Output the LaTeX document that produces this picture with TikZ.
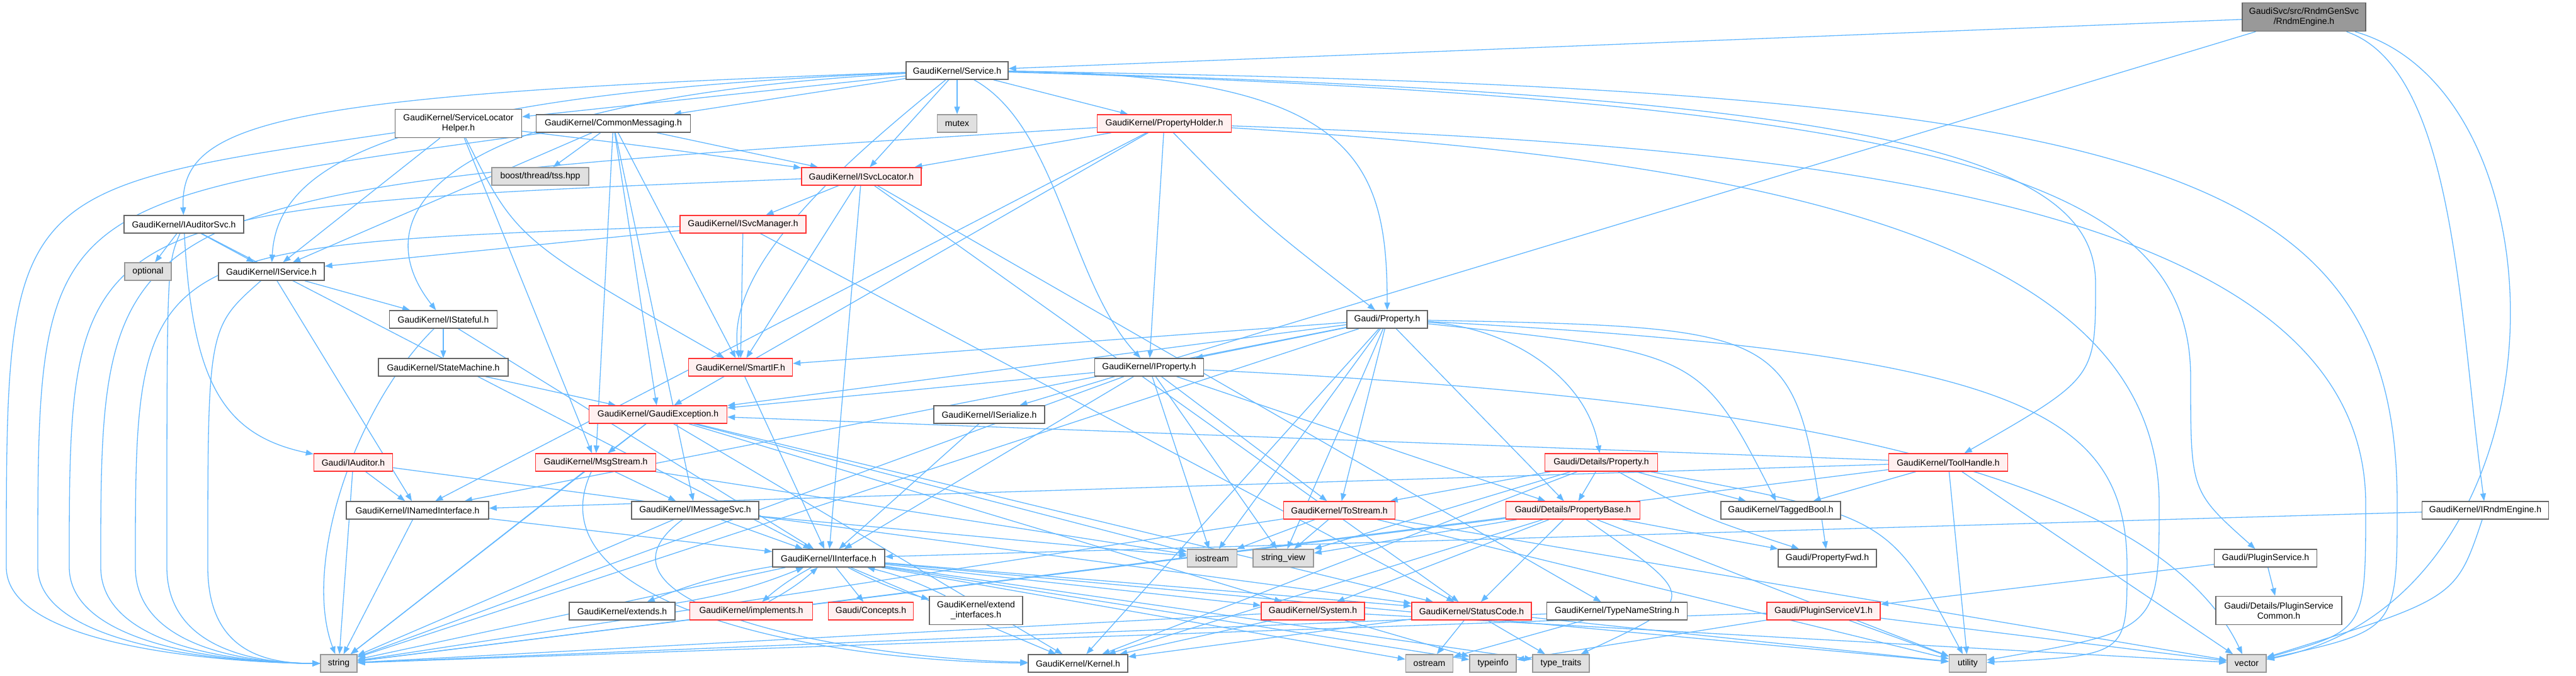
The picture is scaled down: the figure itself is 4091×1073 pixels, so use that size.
\documentclass[tikz,border=0pt]{standalone}
\usepackage{fontspec}
\setmainfont{Liberation Sans}
\usetikzlibrary{arrows.meta}
\pgfdeclarelayer{bg}
\pgfsetlayers{bg,main}
\definecolor{edgec}{HTML}{63B8FF}
\definecolor{gfortyc}{HTML}{666666}
\definecolor{gsixtyc}{HTML}{999999}
\definecolor{gninetyc}{HTML}{E0E0E0}
\definecolor{pinkc}{HTML}{FFF0F0}
\definecolor{redc}{HTML}{FF3333}
\begin{document}
\begin{tikzpicture}[x=1pt,y=-1pt,
 base/.style={draw, line width=1.5pt, inner sep=0pt, minimum height=28pt, font=\fontsize{14}{16}\selectfont, align=center},
 nd/.style={base, draw=gfortyc, fill=white},
 rd/.style={base, draw=redc, fill=pinkc},
 sy/.style={base, draw=gsixtyc, fill=gninetyc},
 rt/.style={base, draw=gfortyc, fill=gsixtyc},
 ed/.style={draw=edgec, line width=1.3pt, -{Triangle[length=12pt,width=9pt]}}]
\useasboundingbox (0,0) rectangle (4091,1073);
% nodes
\node[rt, minimum width=196pt, minimum height=45pt] (root) at (3659,27) {GaudiSvc/src/RndmGenSvc\\/RndmEngine.h};
\node[nd, minimum width=162pt] (svc) at (1520,112) {GaudiKernel/Service.h};
\node[nd, minimum width=201pt, minimum height=45pt] (slh) at (728,196) {GaudiKernel/ServiceLocator\\Helper.h};
\node[nd, minimum width=245pt] (cm) at (974,196) {GaudiKernel/CommonMessaging.h};
\node[sy, minimum width=63pt] (mutex) at (1520,196) {mutex};
\node[rd, minimum width=213pt] (ph) at (1849,196) {GaudiKernel/PropertyHolder.h};
\node[sy, minimum width=154pt] (tss) at (858,280) {boost/thread/tss.hpp};
\node[rd, minimum width=190pt] (isl) at (1368,280) {GaudiKernel/ISvcLocator.h};
\node[nd, minimum width=190pt] (ias) at (292,356) {GaudiKernel/IAuditorSvc.h};
\node[rd, minimum width=200pt] (ism) at (1180,356) {GaudiKernel/ISvcManager.h};
\node[sy, minimum width=74pt] (opt) at (235,431) {optional};
\node[nd, minimum width=168pt] (isv) at (431,431) {GaudiKernel/IService.h};
\node[nd, minimum width=171pt] (ist) at (704,507) {GaudiKernel/IStateful.h};
\node[nd, minimum width=206pt] (sm) at (704,583) {GaudiKernel/StateMachine.h};
\node[rd, minimum width=165pt] (sif) at (1176,583) {GaudiKernel/SmartIF.h};
\node[nd, minimum width=173pt] (ipr) at (1825,583) {GaudiKernel/IProperty.h};
\node[nd, minimum width=128pt] (prop) at (2203,507) {Gaudi/Property.h};
\node[rd, minimum width=219pt] (gex) at (1045,658) {GaudiKernel/GaudiException.h};
\node[nd, minimum width=176pt] (iser) at (1571,658) {GaudiKernel/ISerialize.h};
\node[rd, minimum width=125pt] (iaud) at (561,734) {Gaudi/IAuditor.h};
\node[rd, minimum width=191pt] (msg) at (946,734) {GaudiKernel/MsgStream.h};
\node[rd, minimum width=179pt] (dprop) at (2543,734) {Gaudi/Details/Property.h};
\node[rd, minimum width=189pt] (th) at (3094,734) {GaudiKernel/ToolHandle.h};
\node[nd, minimum width=226pt] (ini) at (663,810) {GaudiKernel/INamedInterface.h};
\node[nd, minimum width=202pt] (ims) at (1104,810) {GaudiKernel/IMessageSvc.h};
\node[rd, minimum width=177pt] (tos) at (2127,810) {GaudiKernel/ToStream.h};
\node[rd, minimum width=213pt] (pb) at (2498,810) {Gaudi/Details/PropertyBase.h};
\node[nd, minimum width=190pt] (tb) at (2828,810) {GaudiKernel/TaggedBool.h};
\node[nd, minimum width=201pt] (ire) at (3947,810) {GaudiKernel/IRndmEngine.h};
\node[nd, minimum width=178pt] (ii) at (1316,886) {GaudiKernel/IInterface.h};
\node[sy, minimum width=79pt] (ios) at (1925,886) {iostream};
\node[sy, minimum width=96pt] (sv) at (2038,886) {string\_view};
\node[nd, minimum width=156pt] (pfwd) at (2902,886) {Gaudi/PropertyFwd.h};
\node[nd, minimum width=163pt] (ps) at (3598,886) {Gaudi/PluginService.h};
\node[nd, minimum width=168pt] (ext) at (988,970) {GaudiKernel/extends.h};
\node[rd, minimum width=195pt] (impl) at (1193,970) {GaudiKernel/implements.h};
\node[rd, minimum width=135pt] (conc) at (1383,970) {Gaudi/Concepts.h};
\node[nd, minimum width=148pt, minimum height=45pt] (exti) at (1550,969) {GaudiKernel/extend\\\_interfaces.h};
\node[rd, minimum width=164pt] (sys) at (2085,970) {GaudiKernel/System.h};
\node[rd, minimum width=190pt] (sc) at (2337,970) {GaudiKernel/StatusCode.h};
\node[nd, minimum width=223pt] (tns) at (2568,970) {GaudiKernel/TypeNameString.h};
\node[rd, minimum width=180pt] (psv1) at (2896,970) {Gaudi/PluginServiceV1.h};
\node[nd, minimum width=200pt, minimum height=45pt] (psc) at (3619,969) {Gaudi/Details/PluginService\\Common.h};
\node[sy, minimum width=58pt] (str) at (538,1053) {string};
\node[nd, minimum width=158pt] (ker) at (1712,1053) {GaudiKernel/Kernel.h};
\node[sy, minimum width=75pt] (ost) at (2270,1053) {ostream};
\node[sy, minimum width=74pt] (tinf) at (2371,1053) {typeinfo};
\node[sy, minimum width=90pt] (tt) at (2479,1053) {type\_traits};
\node[sy, minimum width=59pt] (util) at (3125,1053) {utility};
\node[sy, minimum width=62pt] (vec) at (3568,1053) {vector};
% edges
\begin{pgfonlayer}{bg}
\fill[white] (0,0) rectangle (4091,1073);
% root
\draw[ed] (root) -- (svc);
\draw[ed] (root) -- (iser);
\draw[ed] (root) .. controls (3900,110) and (3905,500) .. (ire);
\draw[ed] (root) .. controls (4088,150) and (4088,950) .. (vec);
% Service
\draw[ed] (svc) -- (cm);
\draw[ed] (svc) -- (mutex);
\draw[ed] (svc) -- (ph);
\draw[ed] (svc) -- (isl);
\draw[ed] (svc) -- (slh);
\draw[ed] (svc) .. controls (450,150) and (285,190) .. (ias);
\draw[ed] (svc) .. controls (620,150) and (440,260) .. (isv);
\draw[ed] (svc) .. controls (660,160) and (580,350) .. (ist);
\draw[ed] (svc) .. controls (1350,250) and (1150,420) .. (sif);
\draw[ed] (svc) .. controls (1680,200) and (1700,450) .. (ipr);
\draw[ed] (svc) .. controls (2150,118) and (2203,250) .. (prop);
\draw[ed] (svc) .. controls (3000,150) and (3328,250) .. (3328,450) .. controls (3328,600) .. (th);
\draw[ed] (svc) .. controls (3150,160) and (3479,300) .. (3479,600) .. controls (3479,780) .. (ps);
\draw[ed] (svc) .. controls (3400,140) and (3807,250) .. (3807,800) .. controls (3807,1000) .. (vec);
% ServiceLocatorHelper
\draw[ed] (slh) -- (isv);
\draw[ed] (slh) .. controls (1050,235) .. (isl);
\draw[ed] (slh) .. controls (820,380) .. (sif);
\draw[ed] (slh) -- (msg);
\draw[ed] (slh) .. controls (10,300) .. (10,900) .. controls (10,1040) and (430,1053) .. (str);
% CommonMessaging
\draw[ed] (cm) -- (tss);
\draw[ed] (cm) -- (isl);
\draw[ed] (cm) -- (gex);
\draw[ed] (cm) -- (msg);
\draw[ed] (cm) -- (ims);
\draw[ed] (cm) -- (isv);
\draw[ed] (cm) -- (sif);
\draw[ed] (cm) .. controls (60,320) .. (60,900) .. controls (60,1040) and (430,1053) .. (str);
% PropertyHolder
\draw[ed] (ph) -- (isl);
\draw[ed] (ph) -- (ipr);
\draw[ed] (ph) .. controls (2000,350) .. (prop);
\draw[ed] (ph) -- (ini);
\draw[ed] (ph) -- (gex);
\draw[ed] (ph) .. controls (160,300) .. (160,900) .. controls (160,1040) and (430,1053) .. (str);
\draw[ed] (ph) .. controls (2800,230) and (3757,300) .. (3757,800) .. controls (3757,1000) .. (vec);
\draw[ed] (ph) .. controls (2700,250) and (3429,350) .. (3429,800) .. controls (3429,1000) .. (util);
% ISvcLocator
\draw[ed] (isl) -- (ism);
\draw[ed] (isl) -- (sif);
\draw[ed] (isl) -- (ii);
\draw[ed] (isl) -- (tns);
\draw[ed] (isl) -- (sc);
\draw[ed] (isl) .. controls (110,330) .. (110,900) .. controls (110,1040) and (430,1053) .. (str);
% IAuditorSvc
\draw[ed] (ias) -- (opt);
\draw[ed] (ias) -- (isv);
\draw[ed] (ias) .. controls (305,600) and (350,690) .. (iaud);
\draw[ed] (ias) -- (ii);
\draw[ed] (ias) .. controls (265,420) .. (265,900) .. controls (265,1040) and (430,1053) .. (str);
% ISvcManager
\draw[ed] (ism) -- (isv);
\draw[ed] (ism) -- (sif);
\draw[ed] (ism) -- (sc);
\draw[ed] (ism) .. controls (215,390) .. (215,900) .. controls (215,1040) and (430,1053) .. (str);
% IService
\draw[ed] (isv) -- (ist);
\draw[ed] (isv) -- (ini);
\draw[ed] (isv) .. controls (330,520) .. (330,900) .. controls (330,1040) and (430,1053) .. (str);
% IStateful, StateMachine, SmartIF
\draw[ed] (ist) -- (sm);
\draw[ed] (ist) -- (ii);
\draw[ed] (ist) .. controls (560,650) and (480,900) .. (str);
\draw[ed] (sm) -- (gex);
\draw[ed] (sif) -- (ii);
% IProperty
\draw[ed] (ipr) -- (gex);
\draw[ed] (ipr) -- (ii);
\draw[ed] (ipr) -- (tos);
\draw[ed] (ipr) -- (pb);
\draw[ed] (ipr) -- (ios);
\draw[ed] (ipr) -- (sv);
\draw[ed] (ipr) -- (str);
\draw[ed] (ipr) .. controls (2600,620) and (3400,700) .. (vec);
% Gaudi/Property
\draw[ed] (prop) -- (ipr);
\draw[ed] (prop) -- (sif);
\draw[ed] (prop) -- (gex);
\draw[ed] (prop) -- (ini);
\draw[ed] (prop) -- (str);
\draw[ed] (prop) -- (ker);
\draw[ed] (prop) -- (tos);
\draw[ed] (prop) -- (sv);
\draw[ed] (prop) .. controls (2400,520) and (2520,600) .. (dprop);
\draw[ed] (prop) -- (pb);
\draw[ed] (prop) .. controls (2700,560) .. (tb);
\draw[ed] (prop) .. controls (2850,520) .. (pfwd);
\draw[ed] (prop) .. controls (3200,560) and (3378,650) .. (3378,900) .. controls (3378,1040) .. (util);
\draw[ed] (prop) -- (ios);
% Details/Property
\draw[ed] (dprop) -- (pb);
\draw[ed] (dprop) -- (tb);
\draw[ed] (dprop) -- (tos);
\draw[ed] (dprop) .. controls (2700,820) .. (pfwd);
\draw[ed] (dprop) -- (sv);
\draw[ed] (dprop) -- (ker);
\draw[ed] (dprop) .. controls (3000,820) .. (util);
% ToolHandle
\draw[ed] (th) -- (ini);
\draw[ed] (th) -- (tb);
\draw[ed] (th) -- (str);
\draw[ed] (th) -- (util);
\draw[ed] (th) -- (vec);
\draw[ed] (th) -- (gex);
% ToStream
\draw[ed] (tos) -- (ios);
\draw[ed] (tos) -- (sv);
\draw[ed] (tos) -- (str);
\draw[ed] (tos) -- (util);
\draw[ed] (tos) -- (vec);
% PropertyBase
\draw[ed] (pb) -- (sv);
\draw[ed] (pb) -- (sys);
\draw[ed] (pb) -- (sc);
\draw[ed] (pb) -- (pfwd);
\draw[ed] (pb) .. controls (2700,950) .. (tt);
\draw[ed] (pb) -- (str);
\draw[ed] (pb) -- (ker);
\draw[ed] (pb) -- (util);
% IAuditor, MsgStream, INamedInterface, IMessageSvc
\draw[ed] (iaud) -- (ini);
\draw[ed] (iaud) -- (str);
\draw[ed] (iaud) -- (sc);
\draw[ed] (msg) -- (ims);
\draw[ed] (msg) -- (str);
\draw[ed] (msg) -- (ios);
\draw[ed] (msg) .. controls (840,960) and (1300,1050) .. (ker);
\draw[ed] (ini) -- (ii);
\draw[ed] (ini) -- (str);
\draw[ed] (ims) -- (ii);
\draw[ed] (ims) -- (str);
\draw[ed] (ims) -- (ios);
\draw[ed] (ims) .. controls (900,960) and (1350,1045) .. (ker);
% GaudiException
\draw[ed] (gex) -- (msg);
\draw[ed] (gex) -- (str);
\draw[ed] (gex) -- (ker);
\draw[ed] (gex) -- (sc);
\draw[ed] (gex) -- (sys);
\draw[ed] (gex) -- (ios);
% IInterface
\draw[ed] (ii) to[bend right=6] (ext);
\draw[ed] (ext) to[bend right=6] (ii);
\draw[ed] (ii) to[bend right=6] (impl);
\draw[ed] (impl) to[bend right=6] (ii);
\draw[ed] (ii) to[bend right=6] (exti);
\draw[ed] (exti) to[bend right=6] (ii);
\draw[ed] (ii) -- (conc);
\draw[ed] (ii) -- (ker);
\draw[ed] (ii) -- (sc);
\draw[ed] (ii) -- (sys);
\draw[ed] (ii) -- (ost);
\draw[ed] (ii) -- (tinf);
\draw[ed] (ii) -- (tt);
\draw[ed] (ii) -- (str);
\draw[ed] (ii) -- (util);
\draw[ed] (iser) -- (ii);
% System, StatusCode, TypeNameString
\draw[ed] (sys) -- (ker);
\draw[ed] (sys) -- (str);
\draw[ed] (sys) -- (tinf);
\draw[ed] (sys) -- (vec);
\draw[ed] (sc) -- (ker);
\draw[ed] (sc) -- (ost);
\draw[ed] (sc) -- (tt);
\draw[ed] (sc) -- (util);
\draw[ed] (tns) -- (str);
\draw[ed] (tns) -- (ost);
% Plugin service
\draw[ed] (psv1) -- (str);
\draw[ed] (psv1) -- (tinf);
\draw[ed] (psv1) -- (util);
\draw[ed] (psv1) -- (vec);
\draw[ed] (ps) -- (psv1);
\draw[ed] (ps) -- (psc);
% IRndmEngine
\draw[ed] (ire) -- (ii);
\draw[ed] (ire) .. controls (3900,950) .. (vec);
\end{pgfonlayer}
\end{tikzpicture}
\end{document}
